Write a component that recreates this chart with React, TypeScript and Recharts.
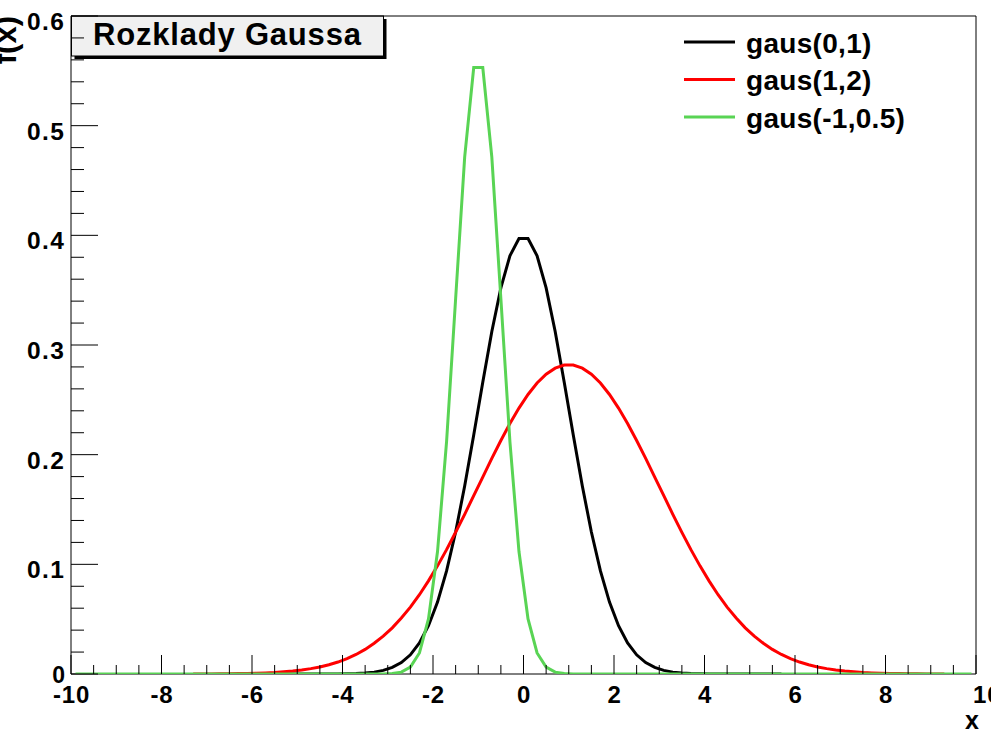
import React from 'react';
import { LineChart, Line, XAxis, YAxis, ReferenceArea, Legend } from 'recharts';

// sample positions (x)
const xValues = [
  -9.9, -9.7, -9.5, -9.3, -9.1, -8.9, -8.7, -8.5, -8.3, -8.1,
  -7.9, -7.7, -7.5, -7.3, -7.1, -6.9, -6.7, -6.5, -6.3, -6.1,
  -5.9, -5.7, -5.5, -5.3, -5.1, -4.9, -4.7, -4.5, -4.3, -4.1,
  -3.9, -3.7, -3.5, -3.3, -3.1, -2.9, -2.7, -2.5, -2.3, -2.1,
  -1.9, -1.7, -1.5, -1.3, -1.1, -0.9, -0.7, -0.5, -0.3, -0.1,
  0.1, 0.3, 0.5, 0.7, 0.9, 1.1, 1.3, 1.5, 1.7, 1.9,
  2.1, 2.3, 2.5, 2.7, 2.9, 3.1, 3.3, 3.5, 3.7, 3.9,
  4.1, 4.3, 4.5, 4.7, 4.9, 5.1, 5.3, 5.5, 5.7, 5.9,
  6.1, 6.3, 6.5, 6.7, 6.9, 7.1, 7.3, 7.5, 7.7, 7.9,
  8.1, 8.3, 8.5, 8.7, 8.9, 9.1, 9.3, 9.5, 9.7, 9.9,
];

// gaus(0,1) – black
const gaus01 = [
  null, null, null, null, null, null, null, null, null, null,
  null, null, null, null, null, null, null, null, null, null,
  null, 0, 0, 0, 0, 0, 0, 0, 0, 0.0001,
  0.0002, 0.0004, 0.0009, 0.0017, 0.0033, 0.006, 0.0104, 0.0175, 0.0283, 0.044,
  0.0656, 0.094, 0.1295, 0.1714, 0.2179, 0.2661, 0.3123, 0.3521, 0.3814, 0.397,
  0.397, 0.3814, 0.3521, 0.3123, 0.2661, 0.2179, 0.1714, 0.1295, 0.094, 0.0656,
  0.044, 0.0283, 0.0175, 0.0104, 0.006, 0.0033, 0.0017, 0.0009, 0.0004, 0.0002,
  0.0001, 0, 0, 0, 0, 0, 0, 0, 0, null,
  null, null, null, null, null, null, null, null, null, null,
  null, null, null, null, null, null, null, null, null, null,
];

// gaus(1,2) – red
const gaus12 = [
  null, null, null, null, null, null, null, null, null, null,
  null, null, null, 0.0001, 0.0001, 0.0001, 0.0002, 0.0002, 0.0004, 0.0005,
  0.0007, 0.001, 0.0014, 0.002, 0.0027, 0.0036, 0.0049, 0.0064, 0.0084, 0.0109,
  0.014, 0.0178, 0.0224, 0.028, 0.0345, 0.0421, 0.051, 0.061, 0.0723, 0.0849,
  0.0986, 0.1134, 0.1292, 0.1456, 0.1626, 0.1796, 0.1966, 0.2129, 0.2284, 0.2425,
  0.2549, 0.2653, 0.2734, 0.2789, 0.2817, 0.2817, 0.2789, 0.2734, 0.2653, 0.2549,
  0.2425, 0.2284, 0.2129, 0.1966, 0.1796, 0.1626, 0.1456, 0.1292, 0.1134, 0.0986,
  0.0849, 0.0723, 0.061, 0.051, 0.0421, 0.0345, 0.028, 0.0224, 0.0178, 0.014,
  0.0109, 0.0084, 0.0064, 0.0049, 0.0036, 0.0027, 0.002, 0.0014, 0.001, 0.0007,
  0.0005, 0.0004, 0.0002, 0.0002, 0.0001, 0.0001, 0.0001, null, null, null,
];

// gaus(-1,0.5) – green
const gausM1 = [
  0, 0, 0, 0, 0, 0, 0, 0, 0, 0,
  0, 0, 0, 0, 0, 0, 0, 0, 0, 0,
  0, 0, 0, 0, 0, 0, 0, 0, 0, 0,
  0, 0, 0, 0, 0.0001, 0.0004, 0.0017, 0.0063, 0.0192, 0.0502,
  0.1117, 0.2118, 0.3422, 0.4713, 0.553, 0.553, 0.4713, 0.3422, 0.2118, 0.1117,
  0.0502, 0.0192, 0.0063, 0.0017, 0.0004, 0.0001, 0, 0, 0, 0,
  0, 0, 0, 0, 0, 0, 0, 0, 0, 0,
  0, 0, 0, 0, 0, 0, 0, 0, 0, 0,
  0, 0, 0, 0, 0, 0, 0, 0, 0, 0,
  0, 0, 0, 0, 0, 0, 0, 0, 0, 0,
];

const xTicks = [
  -10, -9.5, -9, -8.5, -8, -7.5, -7, -6.5, -6, -5.5, -5, -4.5, -4, -3.5, -3, -2.5, -2, -1.5, -1, -0.5,
  0, 0.5, 1, 1.5, 2, 2.5, 3, 3.5, 4, 4.5, 5, 5.5, 6, 6.5, 7, 7.5, 8, 8.5, 9, 9.5, 10,
];
const yTicks = [
  0, 0.02, 0.04, 0.06, 0.08, 0.1, 0.12, 0.14, 0.16, 0.18, 0.2, 0.22, 0.24, 0.26, 0.28, 0.3,
  0.32, 0.34, 0.36, 0.38, 0.4, 0.42, 0.44, 0.46, 0.48, 0.5, 0.52, 0.54, 0.56, 0.58, 0.6,
];

const seriesNames = ['gaus(0,1)', 'gaus(1,2)', 'gaus(-1,0.5)'];
const seriesKeys = ['g01', 'g12', 'gm1'];
const seriesColors = ['#000000', '#ff0000', '#59d454'];
const titleText = 'Rozklady Gaussa';
const xTitle = 'x';
const yTitle = 'f(x)';

const data = xValues.map((x, i) => ({ x, g01: gaus01[i], g12: gaus12[i], gm1: gausM1[i] }));

const FONT = '"Liberation Sans", Arial, Helvetica, sans-serif';

const XTick = (props: any) => {
  const { x, y, payload } = props;
  const v = payload.value;
  const major = Math.abs(v % 2) < 1e-9;
  const len = major ? 19 : 9;
  const last = v === 10;
  return (
    <g>
      <line x1={x} y1={y} x2={x} y2={y - len} stroke="#000" strokeWidth={1} />
      {major && (
        <text
          x={last ? x - 3 : x + 0.5}
          y={y + 29}
          textAnchor={last ? 'start' : 'middle'}
          fontSize={24}
          letterSpacing={0.8}
          fontWeight="bold"
          fontFamily={FONT}
          fill="#000"
        >
          {String(v)}
        </text>
      )}
    </g>
  );
};

const YTick = (props: any) => {
  const { x, y, payload } = props;
  const v = payload.value;
  const major = Math.abs(v * 10 - Math.round(v * 10)) < 1e-6;
  const len = major ? 27 : 13;
  const zero = v === 0;
  return (
    <g>
      <line x1={x} y1={y} x2={x + len} y2={y} stroke="#000" strokeWidth={1} />
      {major && (
        <text
          x={zero ? x - 6 : x - 5.5}
          y={zero ? y + 9 : y + 14}
          textAnchor="end"
          fontSize={zero ? 23 : 24.5}
          letterSpacing={zero ? 0 : 1.5}
          fontWeight="bold"
          fontFamily={FONT}
          fill="#000"
        >
          {zero ? '0' : v.toFixed(1)}
        </text>
      )}
    </g>
  );
};

const renderLegend = () => (
  <svg width={300} height={120} style={{ display: 'block', overflow: 'visible' }}>
    {seriesNames.map((name, i) => {
      const ly = 20 + i * 37.5;
      return (
        <g key={name}>
          <line x1={4} x2={55} y1={ly} y2={ly} stroke={seriesColors[i]} strokeWidth={3} />
          <text x={66} y={ly + 10.5} fontSize={28} letterSpacing={0.3} fontWeight="bold" fontFamily={FONT} fill="#000">
            {name}
          </text>
        </g>
      );
    })}
  </svg>
);

export default function App() {
  return (
    <div style={{ position: 'absolute', left: 0, top: 0, width: 991, height: 730, background: '#fff' }}>
      <LineChart
        width={991}
        height={730}
        data={data}
        margin={{ top: 16, right: 15, bottom: 0, left: 0 }}
        style={{ fontFamily: FONT }}
      >
        <XAxis
          dataKey="x"
          type="number"
          domain={[-10, 10]}
          ticks={xTicks}
          interval={0}
          height={56}
          axisLine={false}
          tickLine={false}
          tickSize={0}
          tickMargin={0}
          tick={XTick}
          allowDataOverflow
        />
        <YAxis
          type="number"
          domain={[0, 0.6]}
          ticks={yTicks}
          interval={0}
          width={71}
          axisLine={false}
          tickLine={false}
          tickSize={0}
          tickMargin={0}
          tick={YTick}
          allowDataOverflow
        />
        <ReferenceArea x1={-10} x2={10} y1={0} y2={0.6} fill="none" stroke="#000" strokeWidth={1} />
        {seriesKeys.map((k, i) => (
          <Line
            key={k}
            dataKey={k}
            type="linear"
            stroke={seriesColors[i]}
            strokeWidth={3}
            dot={false}
            activeDot={false}
            connectNulls={false}
            isAnimationActive={false}
          />
        ))}
        <Legend
          content={renderLegend}
          layout="horizontal"
          verticalAlign="middle"
          align="center"
          wrapperStyle={{ left: 680, top: 22, width: 300, height: 120 }}
        />
        <g>
          <rect x={74.5} y={19} width={312} height={40} fill="#000" />
          <rect x={71.5} y={16} width={312} height={40} fill="#f0f0f0" stroke="#000" strokeWidth={1} />
          <text x={93} y={45} fontSize={31} letterSpacing={0.8} fontWeight="bold" fontFamily={FONT} fill="#000">
            {titleText}
          </text>
          <text x={965} y={729} fontSize={25} fontWeight="bold" fontFamily={FONT} fill="#000">
            {xTitle}
          </text>
          <text
            transform="translate(16,16) rotate(-90)"
            textAnchor="end"
            fontSize={31}
            fontWeight="bold"
            fontFamily={FONT}
            fill="#000"
          >
            {yTitle}
          </text>
        </g>
      </LineChart>
    </div>
  );
}
